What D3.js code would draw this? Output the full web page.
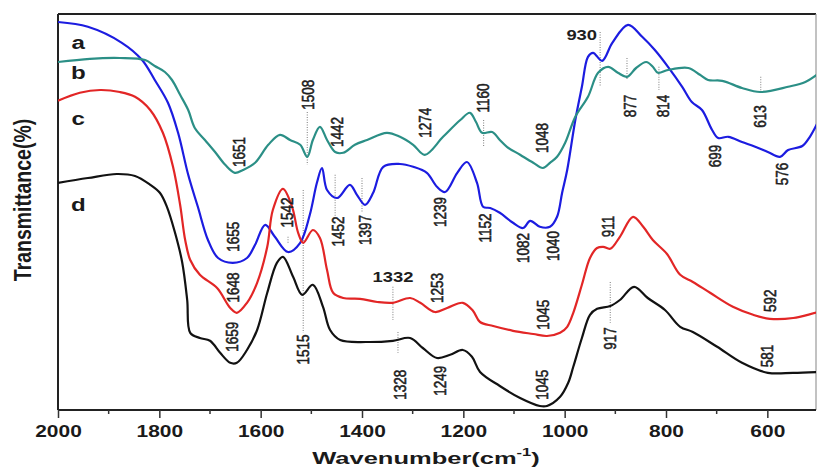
<!DOCTYPE html>
<html>
<head>
<meta charset="utf-8">
<script src="https://cdn.jsdelivr.net/npm/d3@7"></script>
<style>
  body { margin: 0; background: #fff; }
  text { font-family: "Liberation Sans", Arial, sans-serif; }
</style>
</head>
<body>
<svg id="chart" width="817" height="469"></svg>
<script>
// FTIR spectra, [wavenumber (cm-1), transmittance (offset, arbitrary %)]
const spectrumA = [
  [2000,97],[1941,95.8],[1874,91.8],[1834,87.5],[1809,82.5],[1783,76.8],[1763,69.3],[1743,58.8],
  [1724,50.8],[1704,42.5],[1684,38],[1655,36.8],[1627,38],[1611,41.3],[1591,46.3],[1572,43.3],
  [1546,39.5],[1522,41.8],[1503,48.8],[1489,56.8],[1479,60.5],[1469,55],[1449,53],[1424,56.3],
  [1410,53.8],[1394,51.3],[1378,54.3],[1358,60.8],[1325,61.5],[1299,60.8],[1272,59.3],[1252,55.8],
  [1236,54.5],[1212,59.3],[1193,62],[1173,56.8],[1161,50.8],[1147,50.5],[1128,49.3],[1102,46.8],
  [1082,45.5],[1068,47.3],[1049,45.8],[1029,45.8],[1015,48.3],[1005,54.3],[995,60],[979,72.5],
  [966,80.8],[954,88.3],[944,89.3],[926,87.3],[906,91.8],[875,96.3],[847,93.3],[822,90],
  [796,85.8],[768,80.8],[749,77],[729,75],[709,70],[697,68],[677,68.3],[650,67],[624,65.8],
  [599,64.5],[575,63.3],[559,65],[531,66],[516,68.3],[500,72]
];
const spectrumB = [
  [2000,87],[1937,87.8],[1878,88],[1828,87.5],[1809,86],[1789,84.5],[1775,82.5],[1759,78.8],
  [1743,75],[1730,70.5],[1710,67.5],[1690,64.5],[1670,61.3],[1651,59.3],[1635,60],[1611,61.8],
  [1585,66.3],[1562,68.8],[1542,67.5],[1522,66.3],[1508,63.3],[1497,67.5],[1483,70.8],[1469,67.5],
  [1453,64.5],[1437,64.3],[1414,66.3],[1390,67.5],[1351,69.3],[1325,68.3],[1299,66.3],[1276,63.8],
  [1240,68.3],[1206,72.5],[1187,74.3],[1175,72],[1163,69.3],[1143,69.5],[1128,67.5],[1114,65.8],
  [1088,63.8],[1062,61.8],[1043,60.5],[1029,61.8],[1015,63.3],[999,66.8],[979,73.3],[954,78.3],
  [934,84.3],[914,85.8],[895,84.3],[877,83.3],[859,85.5],[839,87],[826,85.8],[816,84.3],
  [796,85],[756,85.5],[733,83.8],[717,82.5],[689,82.3],[650,80.5],[614,79.5],[559,80.8],
  [525,82],[500,84]
];
const spectrumC = [
  [2000,77.3],[1957,79.3],[1917,80],[1878,79.5],[1848,78.3],[1818,75],[1793,69.3],[1773,60.8],
  [1759,51.3],[1749,42.5],[1739,37.5],[1720,33.8],[1686,30.5],[1660,25.5],[1647,24.3],[1627,26.8],
  [1607,31.8],[1587,40.8],[1576,50],[1556,55.3],[1538,50.8],[1526,44.3],[1516,41.8],[1497,45],
  [1483,43],[1469,35],[1457,29.3],[1437,28],[1404,27.8],[1370,27],[1339,26.8],[1305,28],
  [1285,26.8],[1256,24.5],[1232,25.5],[1201,26.8],[1181,24.8],[1167,22],[1141,21],[1102,19.8],
  [1062,19],[1035,18.5],[1009,19.3],[995,20.8],[983,24.3],[966,31.3],[950,38],[936,40.5],
  [924,40.8],[910,40.3],[891,43.3],[865,48.3],[845,45.8],[826,42.5],[798,39],[772,33.8],
  [747,32],[713,29.3],[668,25.8],[628,23.8],[595,22.8],[549,23],[500,24.5]
];
const spectrumD = [
  [2000,56.8],[1941,58],[1884,59],[1848,58.5],[1818,56.3],[1799,54.3],[1785,50.8],[1769,44.3],
  [1755,37],[1745,27.5],[1739,19.3],[1720,18],[1700,17.3],[1680,14.3],[1660,11.8],[1647,11.8],
  [1627,15],[1607,20],[1587,29.3],[1568,36.8],[1556,38.3],[1536,33.3],[1518,28.8],[1497,31.3],
  [1477,25.8],[1463,20],[1443,17.5],[1390,17],[1339,17.3],[1305,18],[1280,15.5],[1252,13],
  [1226,13.8],[1201,15],[1183,13.3],[1167,9.5],[1128,6],[1088,3],[1049,1],[1035,1],
  [1009,3.3],[993,6.8],[983,10.8],[966,18],[950,23.8],[936,25.3],[910,26],[891,27.5],
  [863,30.8],[836,28],[802,25],[772,20.8],[747,19.5],[699,15.8],[650,11.8],[599,9.3],
  [549,9.3],[500,9.5]
];

const seriesNames = ["a", "b", "c", "d"];
const seriesColors = ["#1c1ce0", "#2b8f86", "#e22626", "#121212"];
const seriesLabelT = [92, 84.5, 73, 51.3];

// Tick values along the wavenumber axis
const majorTicks = [2000, 1800, 1600, 1400, 1200, 1000, 800, 600];
const minorTicks = [1900, 1700, 1500, 1300, 1100, 900, 700, 500];

// Band assignments: [band, anchor wavenumber, anchor transmittance]
const bandsA = [[1655,1655,43.3],[1542,1548,49.4],[1452,1447,44.6],[1397,1394,45],[1239,1246,49.5],
  [1152,1157,45.5],[1082,1082,40.5],[1040,1023,41],[699,703,63.5],[576,571,59]];
const bandsB = [[1651,1643,64.5],[1508,1507,78.8],[1442,1449,69.5],[1274,1276,71.8],[1160,1161,78],
  [1048,1045,68],[877,871,76],[814,806,76],[613,614,73.4]];
const bandsC = [[1648,1655,30.6],[1253,1252,30.5],[1045,1043,23.8],[911,914,45.9],[592,595,27.3]];
const bandsD = [[1659,1657,18.3],[1515,1516,15.1],[1328,1325,6.3],[1249,1246,7.3],[1045,1045,6.3],
  [917,910,17.9],[581,600,13.5]];
// Horizontally written bands: [band, anchor wavenumber, anchor transmittance, anchor side]
const flatBands = [[930,936,93.8,"end"],[1332,1339,33.3,"middle"]];
// Dotted marker lines: [wavenumber, from, to]
const markers = [[1508,74.5,61.3],[1160,72.5,65.8],[930,94.5,80.8],[877,88,82.5],[814,85.8,80],
  [613,83.3,79.5],[1546,43.3,41.8],[1453,58.8,48.3],[1400,58,49.3],[1339,30.8,22.5],
  [1516,55,19.3],[1329,19.5,14.3],[910,32,21.8]];

const svg = d3.select("#chart");
const plotLeft = 58, plotRight = 816, plotTop = 14, plotBottom = 410;
const x = d3.scaleLinear().domain([2000, 500]).range([plotLeft, 818]);
const y = d3.scaleLinear().domain([0, 99]).range([plotBottom, plotTop]);
const sx = 1.27;

svg.append("defs").append("clipPath").attr("id", "plot")
  .append("rect").attr("x", plotLeft).attr("y", plotTop)
  .attr("width", plotRight - plotLeft).attr("height", plotBottom - plotTop);

// Frame
svg.append("line").attr("x1", plotLeft).attr("x2", plotRight).attr("y1", plotTop).attr("y2", plotTop)
  .attr("stroke", "#222").attr("stroke-width", 2);
svg.append("line").attr("x1", plotLeft).attr("x2", plotLeft).attr("y1", plotTop).attr("y2", plotBottom)
  .attr("stroke", "#222").attr("stroke-width", 2);
svg.append("line").attr("x1", plotRight).attr("x2", plotRight).attr("y1", plotTop).attr("y2", plotBottom)
  .attr("stroke", "#999").attr("stroke-width", 1.2);

// Dotted markers
svg.append("g").selectAll("line").data(markers).join("line")
  .attr("x1", d => x(d[0])).attr("x2", d => x(d[0]))
  .attr("y1", d => y(d[1])).attr("y2", d => y(d[2]))
  .attr("stroke", "#888").attr("stroke-width", 1.1).attr("stroke-dasharray", "1,1.5");

// Spectra
const line = d3.line().curve(d3.curveCatmullRom.alpha(0.5)).x(d => x(d[0])).y(d => y(d[1]));
const spectra = [spectrumA, spectrumB, spectrumC, spectrumD];
svg.append("g").attr("clip-path", "url(#plot)").selectAll("path").data(spectra).join("path")
  .attr("d", line).attr("fill", "none")
  .attr("stroke", (d, i) => seriesColors[i]).attr("stroke-width", 2.2)
  .attr("stroke-linejoin", "round");

// Series letters
svg.append("g").selectAll("text").data(seriesNames).join("text")
  .attr("transform", (d, i) => `translate(${x(1960)},${y(seriesLabelT[i])}) scale(${sx},1)`)
  .attr("text-anchor", "middle").attr("dominant-baseline", "central")
  .attr("font-size", 19).attr("font-weight", "bold").attr("fill", "#1a1a1a")
  .text(d => d);

// Rotated band labels
const bands = [].concat(bandsA, bandsB, bandsC, bandsD);
svg.append("g").selectAll("text").data(bands).join("text")
  .attr("transform", d => `translate(${x(d[1])},${y(d[2])}) scale(${sx},1) rotate(-90)`)
  .attr("text-anchor", "middle").attr("dominant-baseline", "central")
  .attr("font-size", 13.5).attr("fill", "#1e1e1e")
  .attr("stroke", "#1e1e1e").attr("stroke-width", 0.45)
  .text(d => d[0]);

svg.append("g").selectAll("text").data(flatBands).join("text")
  .attr("transform", d => `translate(${x(d[1])},${y(d[2])}) scale(${sx},1)`)
  .attr("text-anchor", d => d[3]).attr("dominant-baseline", "central")
  .attr("font-size", 14.5).attr("font-weight", "bold").attr("fill", "#1e1e1e")
  .text(d => d[0]);

// Wavenumber axis
const axis = svg.append("g").attr("transform", `translate(0,${plotBottom})`)
  .call(d3.axisBottom(x).tickValues(majorTicks).tickSize(8).tickSizeOuter(0).tickFormat(d3.format("d")));
axis.select(".domain").attr("stroke", "#222").attr("stroke-width", 2)
  .attr("d", `M${plotLeft},0H${plotRight}`);
axis.selectAll(".tick line").attr("stroke", "#333").attr("stroke-width", 1.5);
axis.selectAll(".tick text")
  .attr("font-family", "Liberation Sans, Arial, sans-serif")
  .attr("font-size", 16.5).attr("font-weight", "bold").attr("fill", "#1a1a1a")
  .attr("y", 15).attr("dy", "0.71em")
  .attr("transform", `scale(${sx},1)`);
svg.append("g").attr("transform", `translate(0,${plotBottom})`)
  .selectAll("line").data(minorTicks).join("line")
  .attr("x1", d => x(d)).attr("x2", d => x(d)).attr("y1", 0).attr("y2", 4)
  .attr("stroke", "#333").attr("stroke-width", 1.5);

// Axis titles
const xTitle = svg.append("text")
  .attr("transform", `translate(${(305 + 547) / 2},464) scale(1.5,1)`)
  .attr("text-anchor", "middle").attr("font-size", 17).attr("font-weight", "bold").attr("fill", "#1a1a1a");
xTitle.append("tspan").text("Wavenumber(cm");
xTitle.append("tspan").attr("font-size", 11).attr("dy", -8).text("-1");
xTitle.append("tspan").attr("dy", 8).text(")");

svg.append("text")
  .attr("transform", `translate(23,200) scale(${sx},1) rotate(-90)`)
  .attr("text-anchor", "middle").attr("dominant-baseline", "central")
  .attr("font-size", 19.5).attr("font-weight", "bold").attr("fill", "#1a1a1a")
  .text("Transmittance(%)");
</script>
</body>
</html>
